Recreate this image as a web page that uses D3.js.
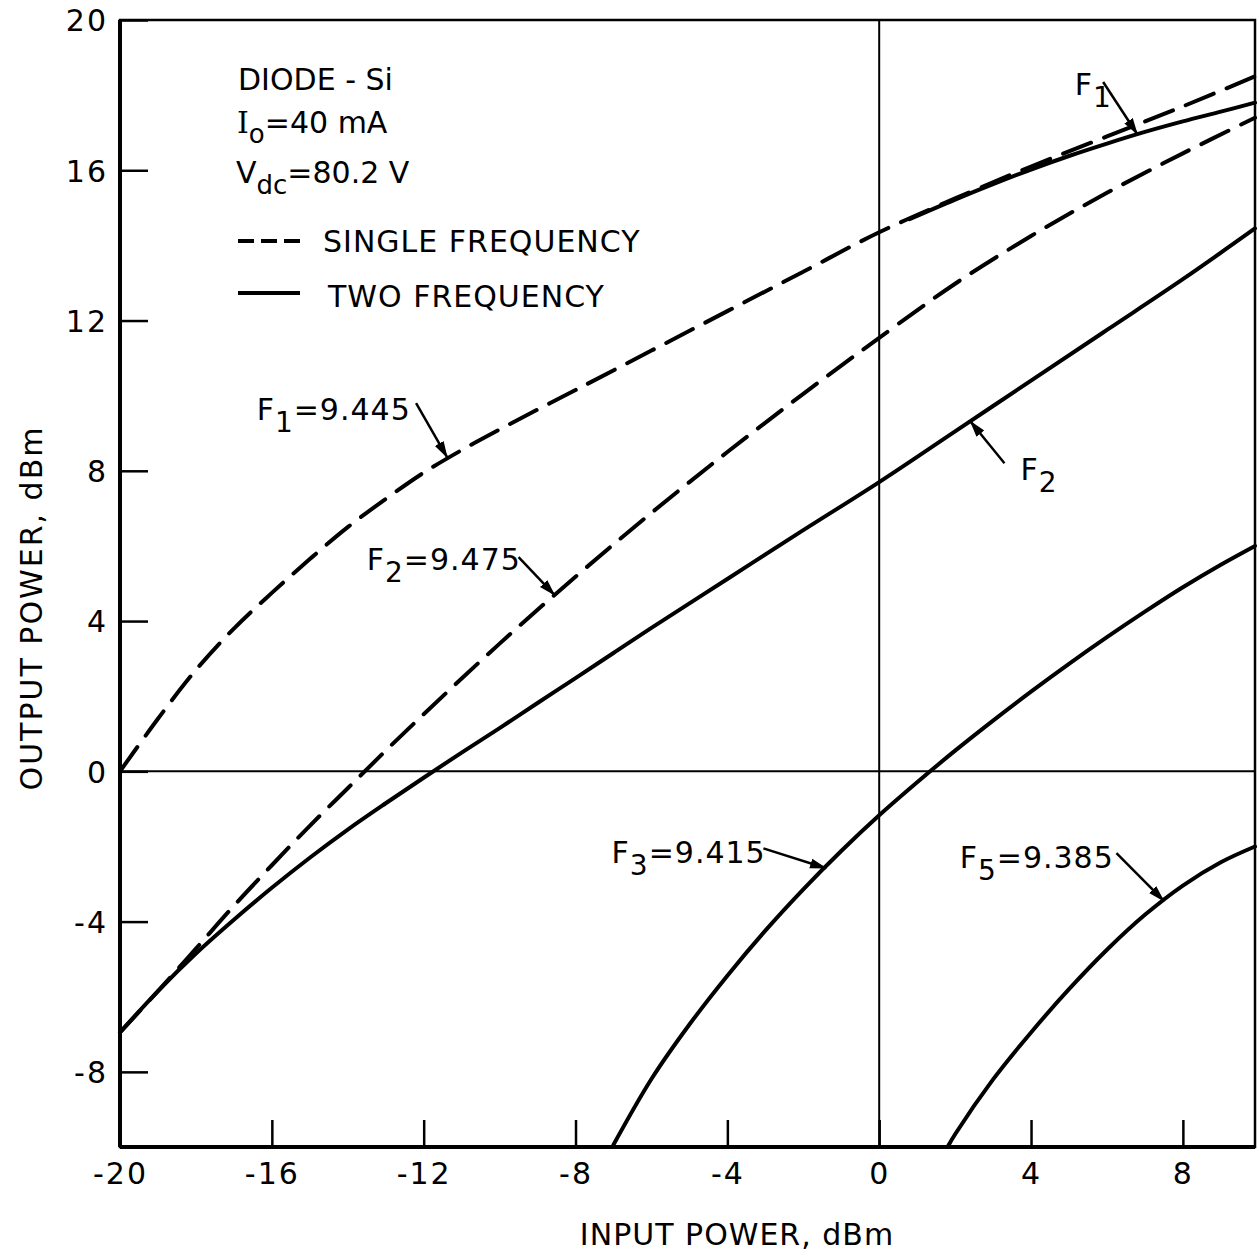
<!DOCTYPE html>
<html>
<head>
<meta charset="utf-8">
<script src="https://cdn.jsdelivr.net/npm/d3@7"></script>
<style>
  body { margin: 0; background: #fff; }
  text { font-family: "DejaVu Sans", sans-serif; fill: #000; }
</style>
</head>
<body>
<div id="chart"></div>
<script>
// Data: [input power dBm, output power dBm]
var xTicks = [-20, -16, -12, -8, -4, 0, 4, 8];
var yTicks = [-8, -4, 0, 4, 8, 12, 16, 20];

var f1Single = [[-20, 0], [-19, 1.4], [-18, 2.7], [-17, 3.8], [-16, 4.75], [-15, 5.65], [-14, 6.5],
  [-13, 7.25], [-12, 7.95], [-11, 8.55], [-10, 9.1], [-9, 9.63], [-8, 10.15], [-6, 11.2],
  [-4, 12.25], [-2, 13.3], [0, 14.35], [2, 15.25], [4, 16.1], [6, 16.9], [8, 17.7], [9.9, 18.5]];

var f2Single = [[-20, -6.95], [-19, -5.85], [-18, -4.72], [-17, -3.58], [-16, -2.5], [-15, -1.45],
  [-14, -0.45], [-13, 0.55], [-12, 1.52], [-11, 2.47], [-10, 3.4], [-9, 4.3], [-8, 5.18], [-7, 6.04],
  [-6, 6.88], [-5, 7.7], [-4, 8.5], [-3, 9.28], [-2, 10.05], [-1, 10.8], [0, 11.54], [2, 12.98],
  [4, 14.25], [6, 15.4], [8, 16.45], [9.9, 17.4]];

var f1Two = [[0.8, 14.7], [2, 15.22], [3, 15.63], [4, 16.02], [5, 16.38], [6, 16.71], [7, 17.02],
  [8, 17.3], [9, 17.56], [9.9, 17.8]];

var f2Two = [[-20, -6.95], [-19, -5.85], [-18, -4.85], [-17, -3.95], [-16, -3.1], [-15, -2.3],
  [-14, -1.55], [-13, -0.85], [-12, -0.17], [-11, 0.5], [-10, 1.15], [-9, 1.82], [-8, 2.48],
  [-7, 3.15], [-6, 3.82], [-4, 5.12], [-2, 6.42], [0, 7.7], [2, 9.05], [4, 10.4], [6, 11.75],
  [8, 13.1], [9.9, 14.45]];

var f3Two = [[-7, -9.94], [-6, -8.19], [-5, -6.74], [-4, -5.44], [-3, -4.24], [-2, -3.14], [-1, -2.12],
  [0, -1.17], [1, -0.29], [2, 0.55], [3, 1.35], [4, 2.12], [5, 2.86], [6, 3.57], [7, 4.25],
  [8, 4.9], [9, 5.5], [9.9, 6.0]];

var f5Two = [[1.8, -10], [2, -9.66], [3, -8.2], [4, -6.95], [5, -5.8], [6, -4.75], [7, -3.82],
  [8, -3.04], [9, -2.42], [9.9, -2.0]];

// annotations: label anchor, arrow start, arrow tip (data units)
var notes = [
  { f: "F", sub: "1", rest: "", at: [5.15, 18.0], from: [5.9, 18.35], to: [6.8, 16.96] },
  { f: "F", sub: "1", rest: "=9.445", at: [-16.4, 9.35], from: [-12.2, 9.8], to: [-11.38, 8.36] },
  { f: "F", sub: "2", rest: "=9.475", at: [-13.5, 5.35], from: [-9.5, 5.7], to: [-8.55, 4.69] },
  { f: "F", sub: "2", rest: "", at: [3.72, 7.75], from: [3.3, 8.2], to: [2.4, 9.32] },
  { f: "F", sub: "3", rest: "=9.415", at: [-7.05, -2.45], from: [-3.05, -2.05], to: [-1.4, -2.58] },
  { f: "F", sub: "5", rest: "=9.385", at: [2.12, -2.56], from: [6.25, -2.18], to: [7.5, -3.45] }
];

var margin = { top: 20, right: 4, bottom: 111, left: 120 },
    width = 1135,
    height = 1127;

var svg = d3.select("#chart").append("svg")
    .attr("width", 1259)
    .attr("height", 1258);

var defs = svg.append("defs");
defs.append("marker")
    .attr("id", "head")
    .attr("markerUnits", "userSpaceOnUse")
    .attr("markerWidth", 18).attr("markerHeight", 12)
    .attr("refX", 16).attr("refY", 6)
    .attr("orient", "auto")
  .append("path")
    .attr("d", "M0,1 L17,6 L0,11 Z")
    .attr("fill", "#000");

var g = svg.append("g")
    .attr("transform", "translate(" + margin.left + "," + margin.top + ")");

var x = d3.scaleLinear().domain([-20, 9.9]).range([0, width]);
var y = d3.scaleLinear().domain([-10, 20]).range([height, 0]);

// zero lines
g.append("line").attr("x1", x(0)).attr("x2", x(0)).attr("y1", 0).attr("y2", height)
    .attr("stroke", "#000").attr("stroke-width", 2);
g.append("line").attr("x1", 0).attr("x2", width).attr("y1", y(0)).attr("y2", y(0))
    .attr("stroke", "#000").attr("stroke-width", 2);

// axes
var fmt = function(d) { return String(d); };
var xAxis = g.append("g")
    .attr("transform", "translate(0," + height + ")")
    .call(d3.axisBottom(x).tickValues(xTicks).tickSize(-27).tickPadding(16).tickFormat(fmt));
var yAxis = g.append("g")
    .call(d3.axisLeft(y).tickValues(yTicks).tickSize(-28).tickPadding(12).tickFormat(fmt));

[xAxis, yAxis].forEach(function(a) {
  a.select(".domain").remove();
  a.selectAll(".tick line").attr("stroke", "#000").attr("stroke-width", 2.5);
  a.selectAll(".tick text")
      .style("font-family", "'DejaVu Sans', sans-serif")
      .style("font-size", "30px")
      .style("letter-spacing", "2px")
      .attr("fill", "#000");
});
xAxis.selectAll(".tick text").attr("dy", "0.71em");
yAxis.selectAll(".tick text").attr("dy", "0.36em");

// frame
g.append("rect").attr("width", width).attr("height", height)
    .attr("fill", "none").attr("stroke", "#000").attr("stroke-width", 2.5);
g.append("line").attr("x1", 0).attr("x2", 0).attr("y1", 0).attr("y2", height)
    .attr("stroke", "#000").attr("stroke-width", 4);
g.append("line").attr("x1", 0).attr("x2", width).attr("y1", height).attr("y2", height)
    .attr("stroke", "#000").attr("stroke-width", 4);

// curves
var line = d3.line()
    .x(function(d) { return x(d[0]); })
    .y(function(d) { return y(d[1]); })
    .curve(d3.curveCatmullRom.alpha(0.5));

var series = [
  { data: f1Single, dash: "30,14" },
  { data: f2Single, dash: "30,14" },
  { data: f1Two, dash: null },
  { data: f2Two, dash: null },
  { data: f3Two, dash: null },
  { data: f5Two, dash: null }
];

g.selectAll(".curve")
    .data(series).enter()
    .append("path")
    .attr("class", "curve")
    .attr("d", function(d) { return line(d.data); })
    .attr("fill", "none")
    .attr("stroke", "#000")
    .attr("stroke-width", 4)
    .attr("stroke-linecap", "round")
    .attr("stroke-dasharray", function(d) { return d.dash; });

// annotations
var note = g.selectAll(".note").data(notes).enter().append("g").attr("class", "note");
note.append("line")
    .attr("x1", function(d) { return x(d.from[0]); })
    .attr("y1", function(d) { return y(d.from[1]); })
    .attr("x2", function(d) { return x(d.to[0]); })
    .attr("y2", function(d) { return y(d.to[1]); })
    .attr("stroke", "#000").attr("stroke-width", 2.5)
    .attr("marker-end", "url(#head)");
var nt = note.append("text")
    .attr("x", function(d) { return x(d.at[0]); })
    .attr("y", function(d) { return y(d.at[1]); })
    .style("font-size", "30px")
    .style("letter-spacing", "1px");
nt.append("tspan").text(function(d) { return d.f; });
nt.append("tspan").attr("dy", 12).style("font-size", "28px").text(function(d) { return d.sub; });
nt.append("tspan").attr("dy", -12).text(function(d) { return d.rest; });

// legend block
var leg = svg.append("g");
leg.append("text").attr("x", 238).attr("y", 90).style("font-size", "30px").text("DIODE - Si");

var t2 = leg.append("text").attr("x", 237).attr("y", 133).style("font-size", "30px");
t2.append("tspan").style("font-family", "'DejaVu Serif', serif").text("I");
t2.append("tspan").attr("dy", 10).style("font-size", "26px").text("o");
t2.append("tspan").attr("dy", -10).text("=40 mA");

var t3 = leg.append("text").attr("x", 236).attr("y", 183).style("font-size", "30px");
t3.append("tspan").text("V");
t3.append("tspan").attr("dy", 11).style("font-size", "26px").text("dc");
t3.append("tspan").attr("dy", -11).text("=80.2 V");

leg.append("line").attr("x1", 238).attr("x2", 300).attr("y1", 241).attr("y2", 241)
    .attr("stroke", "#000").attr("stroke-width", 4).attr("stroke-dasharray", "16,7");
leg.append("text").attr("x", 323).attr("y", 252).style("font-size", "30px")
    .style("letter-spacing", "1px").text("SINGLE FREQUENCY");
leg.append("line").attr("x1", 238).attr("x2", 300).attr("y1", 293).attr("y2", 293)
    .attr("stroke", "#000").attr("stroke-width", 4);
leg.append("text").attr("x", 328).attr("y", 307).style("font-size", "30px")
    .style("letter-spacing", "1px").text("TWO FREQUENCY");

// axis titles
svg.append("text")
    .attr("x", 737).attr("y", 1245)
    .attr("text-anchor", "middle")
    .style("font-size", "30px")
    .style("letter-spacing", "1px")
    .text("INPUT POWER, dBm");
svg.append("text")
    .attr("transform", "translate(42,608) rotate(-90)")
    .attr("text-anchor", "middle")
    .style("font-size", "30px")
    .style("letter-spacing", "2px")
    .text("OUTPUT POWER, dBm");
</script>
</body>
</html>
